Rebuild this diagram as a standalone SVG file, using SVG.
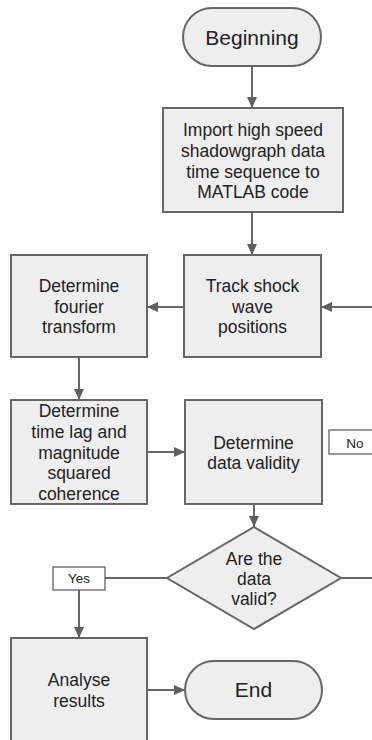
<svg xmlns="http://www.w3.org/2000/svg" width="372" height="740" viewBox="0 0 372 740">
<defs>
<marker id="arr" markerUnits="userSpaceOnUse" markerWidth="12" markerHeight="12" viewBox="0 0 12 12" refX="11" refY="6" orient="auto">
<path d="M0,1 L11,6 L0,11 Z" fill="#5f5f5f"/>
</marker>
<style>
.box{fill:#eeeeee;stroke:#666666;stroke-width:2}
.lbl{fill:#ffffff;stroke:#555555;stroke-width:1.2}
.t{font-family:"Liberation Sans",Arial,sans-serif;font-size:17.5px;fill:#222222;text-anchor:middle}
.big{font-size:21px}
.small{font-size:13.5px}
.c{fill:none;stroke:#666666;stroke-width:2}
</style>
</defs>
<rect width="372" height="740" fill="#ffffff"/>
<g id="connectors">
<path class="c" d="M252,66 V108" marker-end="url(#arr)"/>
<path class="c" d="M252,212 V255" marker-end="url(#arr)"/>
<path class="c" d="M184,307 H147" marker-end="url(#arr)"/>
<path class="c" d="M374,307 H321" marker-end="url(#arr)"/>
<path class="c" d="M79,357 V400" marker-end="url(#arr)"/>
<path class="c" d="M147,452 H185" marker-end="url(#arr)"/>
<path class="c" d="M254,504 V527" marker-end="url(#arr)"/>
<path class="c" d="M167,578 H105"/>
<path class="c" d="M79,590 V638" marker-end="url(#arr)"/>
<path class="c" d="M341,578 H374"/>
<path class="c" d="M147,690 H185" marker-end="url(#arr)"/>
</g>
<g id="beginning">
<rect class="box" x="183" y="8" width="138" height="58" rx="29"/>
<text class="t big" x="252" y="45">Beginning</text>
</g>
<g id="import">
<rect class="box" x="163" y="108" width="180" height="104"/>
<text class="t" x="253" y="136">Import high speed</text>
<text class="t" x="253" y="157">shadowgraph data</text>
<text class="t" x="253" y="177.5">time sequence to</text>
<text class="t" x="253" y="198">MATLAB code</text>
</g>
<g id="track">
<rect class="box" x="184" y="255" width="137" height="102"/>
<text class="t" x="252.5" y="292">Track shock</text>
<text class="t" x="252.5" y="313">wave</text>
<text class="t" x="252.5" y="333">positions</text>
</g>
<g id="fourier">
<rect class="box" x="11" y="255" width="136" height="102"/>
<text class="t" x="79" y="292">Determine</text>
<text class="t" x="79" y="313">fourier</text>
<text class="t" x="79" y="333">transform</text>
</g>
<g id="timelag">
<rect class="box" x="11" y="400" width="136" height="104"/>
<text class="t" x="79" y="417">Determine</text>
<text class="t" x="79" y="438">time lag and</text>
<text class="t" x="79" y="459">magnitude</text>
<text class="t" x="79" y="479">squared</text>
<text class="t" x="79" y="500">coherence</text>
</g>
<g id="validity">
<rect class="box" x="185" y="400" width="137" height="104"/>
<text class="t" x="253.5" y="449">Determine</text>
<text class="t" x="253.5" y="469">data validity</text>
</g>
<g id="no-label">
<rect class="lbl" x="329" y="430" width="50" height="24"/>
<text class="t small" x="355" y="447.5">No</text>
</g>
<g id="decision">
<polygon class="box" points="254,527 341,578 254,629 167,578"/>
<text class="t" x="254" y="565">Are the</text>
<text class="t" x="254" y="585">data</text>
<text class="t" x="254" y="605">valid?</text>
</g>
<g id="yes-label">
<rect class="lbl" x="53" y="567" width="52" height="23"/>
<text class="t small" x="79" y="583">Yes</text>
</g>
<g id="analyse">
<rect class="box" x="11" y="638" width="136" height="110"/>
<text class="t" x="79" y="686">Analyse</text>
<text class="t" x="79" y="707">results</text>
</g>
<g id="end">
<rect class="box" x="185" y="661" width="137" height="58" rx="29"/>
<text class="t big" x="253.5" y="697">End</text>
</g>
</svg>
